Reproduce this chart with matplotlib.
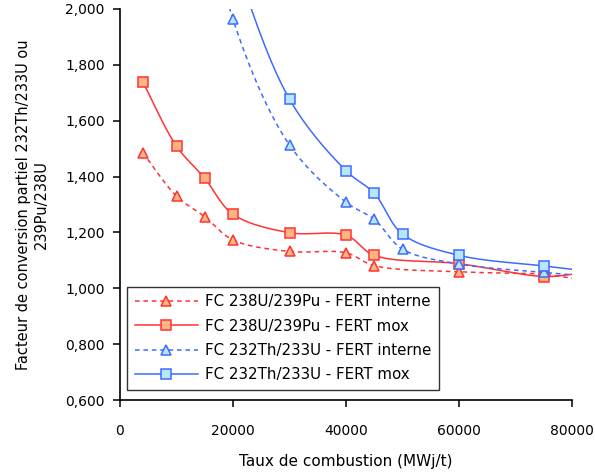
import matplotlib
matplotlib.use("Agg")
import matplotlib.pyplot as plt
import numpy as np
from matplotlib.ticker import FuncFormatter

# burnup (MWj/t) and conversion factor for each series
x_u_int = [4000, 10000, 15000, 20000, 30000, 40000, 45000, 60000, 75000, 80000]
y_u_int = [1.486, 1.330, 1.256, 1.173, 1.132, 1.127, 1.081, 1.059, 1.050, 1.036]

x_u_mox = [4000, 10000, 15000, 20000, 30000, 40000, 45000, 60000, 75000, 80000]
y_u_mox = [1.740, 1.509, 1.394, 1.265, 1.199, 1.190, 1.118, 1.088, 1.042, 1.050]

x_th_int = [15000, 20000, 30000, 40000, 45000, 50000, 60000, 75000, 80000]
y_th_int = [2.45, 1.963, 1.513, 1.308, 1.247, 1.140, 1.087, 1.057, 1.048]

x_th_mox = [15000, 20000, 30000, 40000, 45000, 50000, 60000, 75000, 80000]
y_th_mox = [2.60, 2.20, 1.677, 1.421, 1.340, 1.194, 1.118, 1.080, 1.068]

labels = ["FC 238U/239Pu - FERT interne", "FC 238U/239Pu - FERT mox",
          "FC 232Th/233U - FERT interne", "FC 232Th/233U - FERT mox"]

XSPAN, YSPAN = 80000 / 452, 1.4 / 391   # data units per pixel


def smooth(xs, ys, n=30):
    # centripetal catmull-rom in pixel space (spreadsheet-like smoothed line)
    P = np.column_stack([np.asarray(xs, float) / XSPAN, np.asarray(ys, float) / YSPAN])
    P = np.vstack([2 * P[0] - P[1], P, 2 * P[-1] - P[-2]])
    out = []
    for i in range(1, len(P) - 2):
        p0, p1, p2, p3 = P[i - 1], P[i], P[i + 1], P[i + 2]
        t0 = 0.0
        t1 = t0 + np.linalg.norm(p1 - p0) ** 0.5
        t2 = t1 + np.linalg.norm(p2 - p1) ** 0.5
        t3 = t2 + np.linalg.norm(p3 - p2) ** 0.5
        t = np.linspace(t1, t2, n)[:-1][:, None]
        a1 = (t1 - t) / (t1 - t0) * p0 + (t - t0) / (t1 - t0) * p1
        a2 = (t2 - t) / (t2 - t1) * p1 + (t - t1) / (t2 - t1) * p2
        a3 = (t3 - t) / (t3 - t2) * p2 + (t - t2) / (t3 - t2) * p3
        b1 = (t2 - t) / (t2 - t0) * a1 + (t - t0) / (t2 - t0) * a2
        b2 = (t3 - t) / (t3 - t1) * a2 + (t - t1) / (t3 - t1) * a3
        out.append((t2 - t) / (t2 - t1) * b1 + (t - t1) / (t2 - t1) * b2)
    out.append(P[-2][None, :])
    out = np.vstack(out)
    return out[:, 0] * XSPAN, out[:, 1] * YSPAN


red = "#FF3333"
blue = "#3D6BFF"
red_face = "#FFB482"
blue_face = "#B8E6FF"
dash = (0, (3, 2.5))

series = [
    (x_u_int, y_u_int, red, red_face, "^", dash),
    (x_u_mox, y_u_mox, red, red_face, "s", "-"),
    (x_th_int, y_th_int, blue, blue_face, "^", dash),
    (x_th_mox, y_th_mox, blue, blue_face, "s", "-"),
]

plt.rcParams["font.family"] = "DejaVu Sans"
fig = plt.figure(figsize=(5.95, 4.75), dpi=100)
ax = fig.add_axes([120 / 595, 1 - 400 / 475, 452 / 595, 391 / 475])

for (xs, ys, c, fc, m, ls), lab in zip(series, labels):
    sx, sy = smooth(xs, ys)
    ax.plot(sx, sy, color=c, lw=1.1, ls=ls)
    # no marker on the last point at 80000
    ax.plot(xs[:-1], ys[:-1], ls="none", marker=m, ms=6.5, mfc=fc, mec=c, mew=1.1)
    ax.plot([], [], color=c, lw=1.1, ls=ls, marker=m, ms=6.5, mfc=fc,
            mec=c, mew=1.1, label=lab)

ax.set_xlim(0, 80000)
ax.set_ylim(0.6, 2.0)
ax.set_xticks([0, 20000, 40000, 60000, 80000])
ax.set_yticks(np.arange(0.6, 2.01, 0.2))
ax.yaxis.set_major_formatter(FuncFormatter(lambda v, p: f"{v:.3f}".replace(".", ",")))
ax.spines["top"].set_visible(False)
ax.spines["right"].set_visible(False)
for s in ("left", "bottom"):
    ax.spines[s].set_linewidth(1.2)
ax.tick_params(labelsize=10, length=5, width=1.1, pad=6)
ax.tick_params(axis="x", pad=12)

ax.set_xlabel("Taux de combustion (MWj/t)", fontsize=11, labelpad=12)
ax.set_ylabel("Facteur de conversion partiel 232Th/233U ou\n239Pu/238U",
              fontsize=10.5, labelpad=12)

leg = ax.legend(loc="lower left", bbox_to_anchor=(0.0155, 0.026), borderaxespad=0,
                fontsize=10.8, frameon=True, fancybox=False, handlelength=4.2,
                borderpad=0.5, labelspacing=0.62, handletextpad=0.5)
leg.get_frame().set_edgecolor("black")
leg.get_frame().set_linewidth(1.0)

fig.savefig("out.png", dpi=100)
